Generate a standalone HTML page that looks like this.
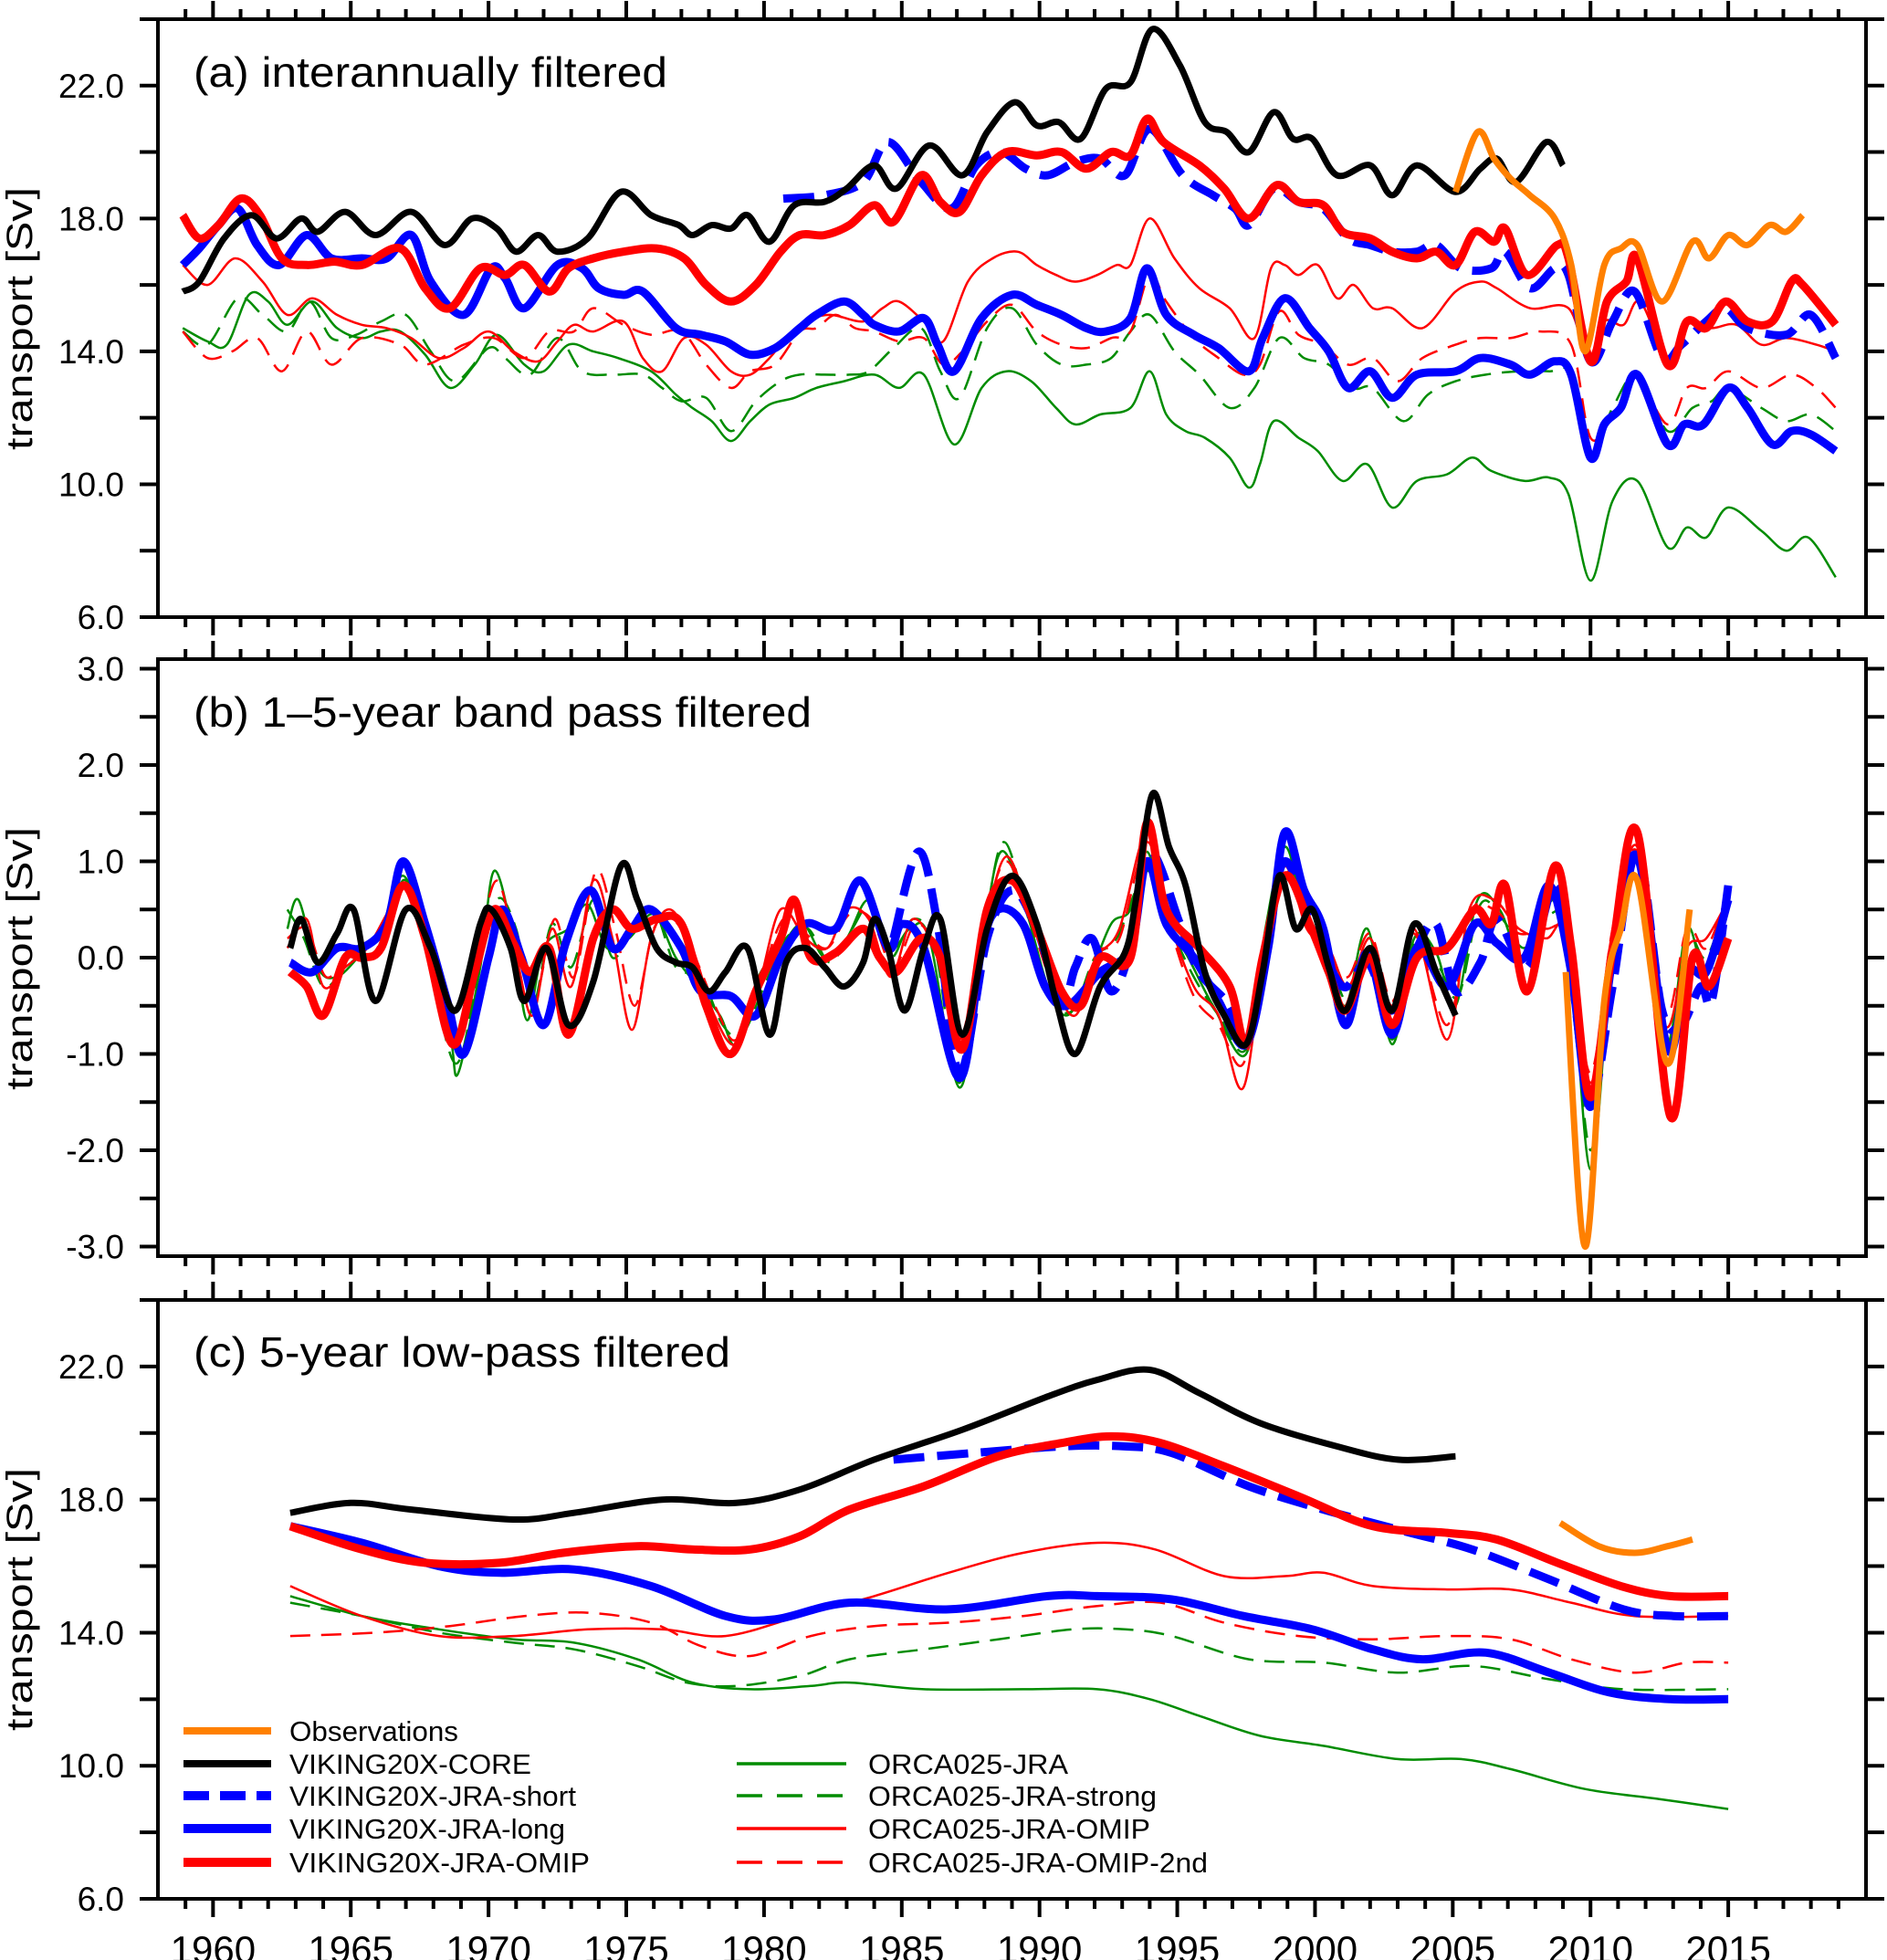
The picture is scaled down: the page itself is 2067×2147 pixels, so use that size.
<!DOCTYPE html>
<html><head><meta charset="utf-8"><title>Transport time series</title>
<style>
html,body{margin:0;padding:0;background:#fff;}
svg{display:block;font-family:"Liberation Sans",Arial,sans-serif;}
</style></head>
<body>
<svg id="chart" width="2067" height="2147" viewBox="0 0 2067 2147" xmlns="http://www.w3.org/2000/svg">
<g id="axes"></g>
<g id="series"></g>
<g id="legend"></g>
</svg>
<script>
// ---------- data: panel (a) interannually filtered ----------
const aObs=[[2005.1,18.8],[2005.9,20.6],[2006.5,19.8],[2007.1,19.2],[2007.8,18.7],[2008.7,18.0],[2009.3,16.6],[2009.8,14.0],[2010.5,16.6],[2011.1,17.1],[2011.7,17.2],[2012.6,15.5],[2013.7,17.3],[2014.3,16.8],[2015.0,17.5],[2015.7,17.2],[2016.5,17.8],[2017.1,17.6],[2017.7,18.1]];
const aCore=[[1958.9,15.8],[1959.5,16.1],[1960.4,17.4],[1961.4,18.1],[1962.3,17.4],[1963.2,18.0],[1963.8,17.6],[1964.8,18.2],[1965.9,17.5],[1967.2,18.2],[1968.4,17.2],[1969.4,18.0],[1970.3,17.7],[1971.0,17.0],[1971.8,17.5],[1972.5,17.0],[1973.6,17.4],[1974.8,18.8],[1975.9,18.1],[1976.9,17.8],[1977.4,17.5],[1978.1,17.8],[1978.8,17.7],[1979.4,18.1],[1980.2,17.3],[1981.1,18.4],[1982.2,18.5],[1983.0,18.9],[1984.0,19.6],[1984.8,18.9],[1986.0,20.2],[1987.2,19.3],[1988.1,20.6],[1989.1,21.5],[1989.9,20.8],[1990.7,20.9],[1991.5,20.4],[1992.4,21.9],[1993.3,22.1],[1994.1,23.7],[1995.1,22.6],[1996.0,20.9],[1996.8,20.6],[1997.6,20.0],[1998.5,21.2],[1999.2,20.4],[1999.9,20.4],[2000.8,19.3],[2002.0,19.6],[2002.8,18.7],[2003.7,19.6],[2005.1,18.8],[2006.0,19.5],[2006.6,19.8],[2007.3,19.1],[2008.4,20.3],[2009.0,19.6]];
const aShort=[[1980.7,18.6],[1982.2,18.7],[1983.6,19.1],[1984.5,20.3],[1985.7,19.1],[1986.8,18.3],[1987.7,19.6],[1988.6,20.0],[1989.5,19.5],[1990.3,19.3],[1991.3,19.7],[1992.2,19.8],[1993.1,19.3],[1994.0,20.7],[1995.2,19.3],[1996.3,18.7],[1997.1,18.3],[1997.6,17.8],[1998.5,18.9],[1999.4,18.5],[2000.3,18.3],[2001.2,17.4],[2002.0,17.2],[2002.8,17.0],[2003.7,17.0],[2004.4,17.2],[2005.3,16.5],[2006.4,16.5],[2006.9,17.0],[2007.8,15.9],[2008.7,16.5],[2009.2,16.3],[2010.0,13.7],[2010.8,14.9],[2011.6,15.8],[2012.6,13.8],[2013.3,14.2],[2014.2,14.9],[2014.9,15.3],[2015.7,14.7],[2017.1,14.5],[2018.0,15.1],[2018.9,13.8]];
const aLong=[[1958.9,16.6],[1959.5,17.1],[1960.2,17.8],[1960.9,18.3],[1961.6,17.2],[1962.4,16.6],[1963.4,17.5],[1964.3,16.8],[1965.4,16.8],[1966.3,16.8],[1967.2,17.5],[1967.9,16.1],[1969.1,15.1],[1970.1,16.5],[1970.6,16.2],[1971.3,15.3],[1972.5,16.6],[1973.4,16.5],[1974.0,15.9],[1974.9,15.7],[1975.6,15.8],[1976.8,14.7],[1977.7,14.5],[1978.6,14.3],[1979.5,13.9],[1980.4,14.1],[1981.3,14.7],[1981.9,15.1],[1982.9,15.5],[1983.6,15.1],[1984.0,14.8],[1984.9,14.6],[1985.8,15.0],[1986.3,14.2],[1986.9,13.4],[1987.9,15.0],[1989.0,15.7],[1989.9,15.4],[1990.8,15.1],[1991.7,14.7],[1992.4,14.6],[1993.3,15.0],[1993.9,16.5],[1994.6,15.1],[1995.6,14.5],[1996.5,14.1],[1997.6,13.4],[1998.1,14.4],[1998.9,15.6],[1999.8,14.7],[2000.5,14.0],[2001.2,12.9],[2002.0,13.4],[2002.8,12.6],[2003.7,13.3],[2005.1,13.4],[2006.0,13.8],[2007.1,13.6],[2007.8,13.3],[2008.7,13.7],[2009.3,13.3],[2010.0,10.8],[2010.5,11.8],[2011.1,12.3],[2011.7,13.3],[2012.8,11.2],[2013.4,11.8],[2014.1,11.8],[2015.0,12.9],[2015.7,12.3],[2016.6,11.2],[2017.3,11.6],[2018.0,11.5],[2018.9,11.0]];
const aOmip=[[1958.9,18.1],[1959.5,17.4],[1960.2,17.8],[1961.0,18.6],[1961.7,18.1],[1962.5,16.8],[1963.4,16.6],[1964.4,16.7],[1965.4,16.6],[1966.8,17.1],[1967.7,15.9],[1968.6,15.3],[1969.7,16.5],[1970.6,16.3],[1971.3,16.6],[1972.2,15.8],[1972.9,16.5],[1973.8,16.8],[1974.9,17.0],[1976.1,17.1],[1977.1,16.8],[1977.9,16.0],[1978.8,15.5],[1979.7,16.0],[1980.6,17.0],[1981.3,17.5],[1982.2,17.5],[1983.1,17.8],[1984.0,18.4],[1984.7,17.9],[1985.7,19.3],[1986.4,18.5],[1987.1,18.2],[1987.9,19.3],[1988.8,20.0],[1989.9,19.9],[1990.8,20.0],[1991.7,19.5],[1992.6,20.0],[1993.3,19.9],[1993.9,21.0],[1994.5,20.3],[1995.8,19.6],[1996.7,18.9],[1997.6,18.0],[1998.6,19.0],[1999.4,18.5],[2000.3,18.4],[2001.0,17.6],[2002.0,17.4],[2002.8,17.0],[2003.7,16.8],[2004.4,17.0],[2005.1,16.6],[2005.8,17.6],[2006.5,17.3],[2006.9,17.7],[2007.7,16.3],[2008.8,17.2],[2009.2,16.8],[2010.0,13.7],[2010.6,15.5],[2011.3,16.1],[2011.7,16.8],[2012.8,13.6],[2013.5,14.9],[2014.2,14.7],[2014.9,15.5],[2015.7,14.9],[2016.6,14.9],[2017.3,16.1],[2017.7,16.0],[2018.9,14.8]];
const aOrca=[[1958.9,14.7],[1959.8,14.3],[1960.5,14.2],[1961.3,15.7],[1962.0,15.5],[1962.7,14.8],[1963.6,15.5],[1964.5,14.7],[1965.4,14.4],[1966.1,14.6],[1966.8,14.6],[1967.7,13.9],[1968.6,12.9],[1969.5,13.6],[1970.3,14.5],[1971.3,13.6],[1972.0,13.4],[1972.9,14.2],[1973.8,14.0],[1974.7,13.8],[1975.9,13.4],[1976.8,12.7],[1977.4,12.3],[1978.1,11.9],[1978.8,11.3],[1979.5,11.9],[1980.2,12.4],[1981.1,12.6],[1981.9,12.9],[1982.9,13.1],[1984.0,13.3],[1984.9,12.9],[1985.8,13.3],[1986.9,11.2],[1987.9,12.9],[1988.8,13.4],[1989.7,13.1],[1990.6,12.3],[1991.3,11.8],[1992.2,12.1],[1993.3,12.3],[1994.0,13.4],[1994.6,12.1],[1995.3,11.6],[1996.0,11.4],[1996.9,10.8],[1997.6,9.9],[1998.0,10.6],[1998.5,11.9],[1999.4,11.4],[2000.1,11.0],[2001.0,10.1],[2001.9,10.6],[2002.8,9.3],[2003.7,10.1],[2004.8,10.3],[2005.7,10.8],[2006.4,10.4],[2007.6,10.1],[2008.5,10.2],[2009.2,9.7],[2010.0,7.1],[2010.8,9.5],[2011.7,10.1],[2012.8,8.1],[2013.5,8.7],[2014.2,8.4],[2015.0,9.3],[2016.2,8.6],[2017.1,8.0],[2017.9,8.4],[2018.9,7.2]];
const aStrong=[[1958.9,14.6],[1959.8,14.2],[1960.9,15.6],[1961.8,15.1],[1962.7,14.6],[1963.5,15.5],[1964.3,14.4],[1965.2,14.5],[1966.1,14.9],[1967.0,15.1],[1967.9,14.0],[1968.8,13.1],[1970.0,14.1],[1970.6,13.8],[1971.5,13.3],[1972.5,14.4],[1973.4,13.4],[1974.5,13.3],[1975.6,13.3],[1976.3,12.9],[1977.0,12.5],[1977.9,12.6],[1978.8,11.6],[1979.7,12.5],[1980.6,13.1],[1981.3,13.3],[1982.2,13.3],[1983.1,13.3],[1983.8,13.4],[1984.7,14.1],[1985.7,14.7],[1986.4,13.4],[1987.1,12.6],[1988.1,14.7],[1989.0,15.3],[1989.9,14.2],[1990.8,13.6],[1991.7,13.6],[1992.6,13.8],[1993.3,14.6],[1994.0,15.1],[1994.9,14.0],[1995.8,13.3],[1996.9,12.3],[1997.8,12.9],[1998.7,14.4],[1999.6,13.8],[2000.5,13.6],[2001.4,12.9],[2002.1,12.9],[2003.2,11.9],[2004.1,12.7],[2005.1,13.1],[2006.2,13.3],[2007.4,13.4],[2008.5,13.4],[2009.3,13.3],[2010.0,10.9],[2010.8,12.3],[2011.7,13.3],[2012.8,11.6],[2013.7,12.3],[2014.4,12.5],[2015.0,12.9],[2016.2,12.3],[2017.1,11.9],[2018.0,12.1],[2018.9,11.6]];
const aOrcaOmip=[[1958.9,16.6],[1959.8,16.0],[1960.8,16.8],[1961.8,16.1],[1962.7,15.1],[1963.6,15.6],[1964.5,15.1],[1965.4,14.8],[1966.3,14.7],[1967.2,14.4],[1968.2,13.8],[1969.1,14.1],[1970.0,14.6],[1970.9,14.0],[1971.8,13.7],[1972.5,14.3],[1973.1,14.8],[1973.8,14.6],[1974.9,14.9],[1975.6,13.8],[1976.3,13.4],[1977.1,14.4],[1977.9,14.2],[1978.8,13.4],[1979.5,13.3],[1980.2,13.8],[1980.8,14.4],[1981.5,14.9],[1982.4,15.1],[1983.6,14.9],[1984.3,15.3],[1984.9,15.5],[1985.8,14.9],[1986.5,14.3],[1987.4,16.1],[1988.3,16.8],[1989.2,17.0],[1989.9,16.6],[1990.6,16.3],[1991.3,16.1],[1992.1,16.3],[1992.8,16.6],[1993.3,16.6],[1994.0,18.0],[1994.9,16.8],[1995.8,15.9],[1996.9,15.3],[1997.8,14.4],[1998.4,16.5],[1998.9,16.6],[1999.4,16.3],[2000.1,16.6],[2000.8,15.6],[2001.4,16.0],[2002.1,15.3],[2002.8,15.3],[2003.9,14.7],[2005.1,15.8],[2006.0,16.1],[2006.6,15.9],[2007.8,15.3],[2009.2,15.3],[2009.9,13.8],[2010.5,14.9],[2011.2,14.8],[2011.8,15.5],[2012.8,13.8],[2013.5,14.8],[2014.4,14.7],[2015.3,14.8],[2016.2,14.2],[2017.1,14.4],[2018.2,14.2],[2018.9,14.0]];
const aOrcaOmip2=[[1958.9,14.6],[1959.8,13.8],[1960.7,14.0],[1961.6,14.4],[1962.5,13.4],[1963.4,14.6],[1964.3,13.6],[1965.4,14.4],[1966.8,14.2],[1967.7,13.6],[1969.1,14.2],[1970.2,14.4],[1971.3,13.8],[1972.2,14.6],[1973.1,14.6],[1973.8,15.3],[1974.9,14.8],[1975.9,14.5],[1977.0,14.6],[1977.9,13.6],[1978.8,12.9],[1979.5,13.4],[1980.4,13.6],[1981.3,14.6],[1981.9,14.7],[1982.6,15.1],[1983.3,14.7],[1984.0,14.6],[1984.9,14.3],[1985.8,14.4],[1986.5,13.6],[1987.2,14.0],[1988.1,14.9],[1989.0,15.4],[1989.9,14.6],[1990.8,14.2],[1991.7,14.1],[1992.6,14.4],[1993.3,14.6],[1994.0,16.3],[1994.6,15.5],[1995.6,14.4],[1996.5,13.8],[1997.4,13.3],[1998.0,13.6],[1998.7,15.2],[1999.4,14.5],[2000.3,14.2],[2001.2,13.6],[2002.1,13.8],[2003.0,13.1],[2003.9,13.8],[2005.1,14.2],[2006.0,14.4],[2007.1,14.4],[2008.2,14.6],[2009.3,14.2],[2010.0,11.4],[2010.8,12.1],[2011.7,13.1],[2012.8,11.8],[2013.5,12.9],[2014.2,12.9],[2015.0,13.4],[2016.2,12.9],[2017.3,13.3],[2018.2,12.9],[2018.9,12.3]];

// ---------- data: panel (b) 1-5-year band pass ----------
const bObs=[[2009.1,-0.15],[2009.8,-3.0],[2010.5,-0.45],[2011.1,0.3],[2011.7,0.8],[2012.8,-1.1],[2013.6,0.5]];
const bCore=[[1962.8,0.1],[1963.2,0.4],[1963.8,-0.05],[1964.5,0.25],[1965.1,0.5],[1965.9,-0.45],[1967.0,0.5],[1967.9,0.1],[1968.8,-0.55],[1969.7,0.35],[1970.1,0.5],[1970.8,0.1],[1971.3,-0.45],[1972.1,0.1],[1972.9,-0.7],[1973.8,-0.25],[1974.8,0.95],[1975.4,0.6],[1976.1,0.1],[1976.8,-0.05],[1977.4,-0.1],[1978.0,-0.35],[1978.6,-0.15],[1979.4,0.1],[1980.2,-0.8],[1980.8,-0.05],[1981.5,0.1],[1982.2,-0.1],[1982.9,-0.3],[1983.6,-0.05],[1984.0,0.4],[1984.5,0.1],[1985.1,-0.55],[1985.8,0.1],[1986.4,0.4],[1987.2,-0.8],[1988.1,0.3],[1989.0,0.85],[1989.9,0.35],[1990.6,-0.45],[1991.3,-1.0],[1992.2,-0.3],[1993.1,0.05],[1993.5,0.6],[1994.1,1.7],[1994.7,1.15],[1995.3,0.75],[1996.0,-0.15],[1996.7,-0.6],[1997.5,-0.9],[1998.1,-0.15],[1998.7,0.85],[1999.3,0.3],[1999.9,0.5],[2000.5,-0.1],[2001.1,-0.55],[2002.0,0.1],[2002.8,-0.55],[2003.6,0.35],[2004.4,-0.15],[2005.1,-0.6]];
const bShort=[[1984.7,0.2],[1985.6,1.1],[1986.3,0.35],[1987.1,-1.2],[1988.1,0.2],[1989.0,0.7],[1989.9,0.3],[1990.8,-0.45],[1991.3,-0.1],[1991.9,0.2],[1992.6,-0.35],[1993.3,0.1],[1994.0,1.1],[1995.1,0.35],[1995.8,-0.15],[1996.9,-0.5],[1997.5,-0.9],[1998.3,0.2],[1998.9,1.0],[1999.9,0.35],[2001.0,-0.3],[2001.9,-0.05],[2002.8,-0.55],[2003.7,0.1],[2004.4,0.35],[2005.1,-0.35],[2006.0,-0.05],[2006.6,0.4],[2007.7,-0.1],[2008.7,0.75],[2009.3,-0.15],[2010.0,-1.5],[2010.8,-0.3],[2011.7,1.1],[2012.6,-0.55],[2013.3,-0.7],[2014.0,-0.3],[2014.4,-0.45],[2015.0,0.75]];
const bLong=[[1962.8,-0.05],[1963.6,-0.15],[1964.5,0.1],[1965.4,0.1],[1966.3,0.35],[1966.9,1.0],[1967.7,0.35],[1968.5,-0.45],[1969.1,-1.0],[1970.0,0.0],[1970.5,0.5],[1971.2,0.0],[1972.0,-0.7],[1972.8,0.15],[1973.7,0.7],[1974.5,0.1],[1975.2,0.3],[1975.9,0.5],[1977.0,0.1],[1977.7,-0.35],[1978.8,-0.4],[1979.7,-0.6],[1980.6,0.0],[1981.5,0.35],[1982.6,0.3],[1983.5,0.8],[1984.5,0.1],[1985.0,0.35],[1985.8,0.1],[1987.1,-1.25],[1987.9,0.1],[1988.5,0.5],[1989.4,0.35],[1990.2,-0.3],[1991.0,-0.5],[1992.2,-0.15],[1993.3,0.1],[1993.9,1.0],[1994.6,0.35],[1995.6,0.0],[1996.5,-0.45],[1997.5,-0.9],[1998.3,0.1],[1998.9,1.3],[1999.6,0.7],[2000.3,0.3],[2001.1,-0.7],[2001.9,0.05],[2002.8,-0.8],[2003.7,0.1],[2004.8,-0.3],[2005.8,0.35],[2006.6,0.15],[2007.6,0.0],[2008.5,0.75],[2009.3,-0.15],[2010.0,-1.55],[2010.8,0.0],[2011.7,1.05],[2012.8,-0.95],[2013.5,-0.15],[2014.2,-0.15],[2015.0,0.6]];
const bOmip=[[1962.8,-0.15],[1963.4,-0.3],[1964.0,-0.6],[1964.8,0.0],[1965.4,0.0],[1966.1,0.1],[1966.9,0.75],[1967.7,0.2],[1968.7,-0.9],[1969.5,-0.15],[1970.2,0.5],[1970.9,0.15],[1971.5,-0.15],[1972.2,0.1],[1972.9,-0.8],[1973.8,0.2],[1974.5,0.5],[1975.2,0.3],[1976.1,0.4],[1977.0,0.35],[1977.9,-0.5],[1978.8,-1.0],[1979.7,-0.35],[1980.6,0.2],[1981.1,0.6],[1981.7,0.0],[1982.6,0.05],[1983.6,0.3],[1984.2,0.0],[1984.8,-0.15],[1985.7,0.2],[1986.4,0.0],[1987.2,-0.95],[1988.1,0.5],[1989.0,0.8],[1989.9,0.3],[1990.8,-0.35],[1991.5,-0.5],[1992.2,0.0],[1993.3,0.0],[1993.9,1.4],[1994.6,0.5],[1995.8,0.1],[1996.9,-0.3],[1997.5,-0.9],[1998.1,0.0],[1998.9,0.85],[1999.8,0.35],[2000.5,-0.15],[2001.1,-0.55],[2002.0,0.0],[2002.8,-0.7],[2003.7,0.0],[2004.8,0.1],[2005.8,0.5],[2006.4,0.35],[2006.9,0.75],[2007.7,-0.35],[2008.7,0.95],[2009.3,0.1],[2010.0,-1.45],[2010.8,0.1],[2011.7,1.3],[2012.9,-1.65],[2013.7,0.0],[2014.3,-0.3],[2015.0,0.2]];
const bOrca=[[1962.7,0.3],[1963.1,0.6],[1963.8,-0.1],[1964.5,-0.2],[1965.4,0.05],[1966.1,0.3],[1966.9,0.85],[1967.7,0.2],[1968.6,-0.8],[1968.9,-1.2],[1969.7,-0.1],[1970.2,0.9],[1970.9,0.2],[1971.4,-0.65],[1972.0,0.1],[1972.9,0.3],[1973.6,0.55],[1974.3,0.1],[1975.1,0.2],[1976.0,0.45],[1976.8,0.0],[1977.6,-0.3],[1978.4,-0.6],[1979.0,-0.9],[1979.8,-0.2],[1980.6,0.1],[1981.4,0.35],[1982.2,0.0],[1983.0,0.2],[1983.8,0.6],[1984.6,0.1],[1985.3,0.3],[1986.0,0.2],[1987.1,-1.35],[1987.9,0.1],[1988.6,1.1],[1989.5,0.5],[1990.3,-0.3],[1991.0,-0.6],[1991.8,-0.2],[1992.6,0.35],[1993.3,0.5],[1993.9,1.1],[1994.6,0.4],[1995.4,0.0],[1996.3,-0.5],[1997.5,-1.0],[1998.2,0.3],[1998.9,1.15],[1999.6,0.5],[2000.4,0.1],[2001.1,-0.5],[2001.9,0.3],[2002.8,-0.9],[2003.6,0.2],[2004.4,0.05],[2005.1,-0.5],[2005.9,0.6],[2006.7,0.5],[2007.5,0.0],[2008.4,0.55],[2009.2,0.3],[2010.0,-2.2],[2010.8,0.1],[2011.7,1.0],[2012.7,-0.95],[2013.5,0.3],[2014.2,-0.2],[2015.0,0.6]];
const bStrong=[[1962.7,0.5],[1963.3,0.2],[1964.0,-0.3],[1964.8,-0.1],[1965.6,0.1],[1966.4,0.4],[1967.0,0.8],[1967.8,0.0],[1968.8,-1.1],[1969.6,-0.2],[1970.3,0.6],[1971.0,0.3],[1971.6,-0.5],[1972.3,0.35],[1973.0,-0.1],[1973.8,0.6],[1974.5,0.0],[1975.2,0.3],[1976.0,0.5],[1976.8,-0.1],[1977.7,-0.2],[1978.5,-0.7],[1979.2,-0.8],[1980.0,-0.3],[1980.8,0.2],[1981.6,0.3],[1982.4,-0.05],[1983.2,0.3],[1983.9,0.55],[1984.6,0.0],[1985.4,0.4],[1986.2,0.1],[1987.1,-1.3],[1988.0,0.3],[1988.7,1.2],[1989.6,0.4],[1990.4,-0.4],[1991.2,-0.55],[1992.0,0.0],[1992.8,0.2],[1993.9,0.9],[1994.7,0.35],[1995.6,-0.2],[1996.5,-0.6],[1997.5,-0.95],[1998.3,0.2],[1998.9,1.05],[1999.7,0.4],[2000.5,0.0],[2001.2,-0.45],[2002.0,0.2],[2002.8,-0.85],[2003.6,0.15],[2004.5,-0.1],[2005.2,-0.4],[2006.0,0.55],[2006.8,0.4],[2007.6,0.1],[2008.5,0.45],[2009.2,0.2],[2010.0,-2.0],[2010.8,0.0],[2011.7,1.05],[2012.7,-0.9],[2013.5,0.2],[2014.2,0.0],[2015.0,0.65]];
const bOrcaOmip=[[1962.7,0.1],[1963.4,0.4],[1964.0,-0.3],[1964.8,-0.1],[1965.6,0.1],[1966.4,0.5],[1967.0,0.75],[1967.9,-0.1],[1968.8,-0.8],[1969.6,0.0],[1970.3,0.4],[1971.0,0.0],[1971.6,-0.6],[1972.3,0.3],[1973.0,-0.3],[1973.8,0.8],[1974.5,0.2],[1975.2,-0.75],[1975.9,0.2],[1976.6,0.5],[1977.4,0.1],[1978.2,-0.6],[1979.0,-0.9],[1979.8,-0.3],[1980.6,0.5],[1981.5,0.2],[1982.3,0.1],[1983.0,0.5],[1983.8,0.4],[1984.6,-0.2],[1985.4,0.4],[1986.3,0.0],[1987.1,-0.9],[1988.0,0.3],[1988.8,1.05],[1989.7,0.4],[1990.5,-0.25],[1991.3,-0.6],[1992.1,0.0],[1992.9,0.3],[1993.9,1.3],[1994.7,0.4],[1995.6,-0.3],[1996.5,-0.6],[1997.4,-1.35],[1998.2,0.2],[1998.9,0.95],[1999.7,0.3],[2000.5,0.1],[2001.2,-0.3],[2002.0,0.2],[2002.8,-0.5],[2003.6,0.3],[2004.8,-0.85],[2005.6,0.5],[2006.5,0.6],[2007.4,0.3],[2008.4,0.2],[2009.2,0.3],[2010.0,-1.3],[2010.8,0.2],[2011.7,1.15],[2012.7,-0.7],[2013.5,0.1],[2014.2,0.2],[2015.0,0.6]];
const bOrcaOmip2=[[1962.7,0.2],[1963.4,0.3],[1964.1,-0.2],[1964.9,0.0],[1965.7,0.0],[1966.5,0.4],[1967.0,0.7],[1967.9,0.0],[1968.8,-0.75],[1969.6,0.1],[1970.3,0.8],[1971.0,0.1],[1971.7,-0.4],[1972.4,0.4],[1973.1,-0.2],[1973.9,0.9],[1974.6,0.3],[1975.3,-0.5],[1976.0,0.3],[1976.7,0.4],[1977.5,0.0],[1978.3,-0.55],[1979.0,-0.85],[1979.9,-0.2],[1980.7,0.4],[1981.5,0.25],[1982.3,0.1],[1983.1,0.45],[1983.9,0.4],[1984.7,-0.1],[1985.5,0.35],[1986.3,0.05],[1987.1,-0.85],[1988.0,0.35],[1988.8,1.0],[1989.7,0.35],[1990.5,-0.3],[1991.3,-0.5],[1992.1,0.05],[1992.9,0.2],[1993.9,1.2],[1994.7,0.35],[1995.6,-0.4],[1996.5,-0.7],[1997.4,-1.1],[1998.2,0.1],[1998.9,0.9],[1999.7,0.35],[2000.5,0.0],[2001.2,-0.2],[2002.0,0.25],[2002.8,-0.45],[2003.6,0.25],[2004.8,-0.7],[2005.6,0.45],[2006.5,0.5],[2007.4,0.25],[2008.4,0.3],[2009.2,0.2],[2010.0,-1.2],[2010.8,0.3],[2011.7,1.1],[2012.7,-0.6],[2013.5,0.3],[2014.2,0.1],[2015.0,0.7]];

// ---------- data: panel (c) 5-year low-pass ----------
const cObs=[[2008.9,17.3],[2010.3,16.6],[2011.6,16.4],[2012.8,16.6],[2013.7,16.8]];
const cCore=[[1962.8,17.6],[1965.0,17.9],[1967.2,17.7],[1970.9,17.4],[1973.1,17.6],[1976.3,18.0],[1979.0,17.9],[1981.3,18.3],[1984.0,19.2],[1987.2,20.1],[1990.3,21.1],[1992.1,21.6],[1994.0,21.9],[1995.8,21.2],[1998.0,20.3],[2000.8,19.6],[2003.0,19.2],[2005.1,19.3]];
const cShort=[[1984.7,19.2],[1987.6,19.4],[1990.8,19.6],[1993.1,19.6],[1994.8,19.4],[1997.6,18.4],[2000.3,17.7],[2003.0,17.1],[2005.7,16.5],[2008.5,15.6],[2011.2,14.7],[2013.0,14.5],[2015.0,14.5]];
const cLong=[[1962.8,17.2],[1965.4,16.7],[1968.2,16.0],[1970.4,15.8],[1973.1,15.9],[1975.9,15.4],[1978.6,14.5],[1980.4,14.4],[1983.1,14.9],[1986.7,14.7],[1990.3,15.1],[1992.1,15.1],[1994.8,15.0],[1997.4,14.5],[1999.9,14.1],[2002.1,13.5],[2003.9,13.2],[2006.2,13.4],[2008.5,12.8],[2010.7,12.2],[2012.9,12.0],[2015.0,12.0]];
const cOmip=[[1962.8,17.2],[1965.4,16.5],[1967.7,16.1],[1970.4,16.1],[1972.7,16.4],[1975.4,16.6],[1977.4,16.5],[1979.5,16.5],[1981.3,16.9],[1983.1,17.7],[1985.8,18.4],[1988.5,19.3],[1990.8,19.7],[1992.6,19.9],[1994.4,19.7],[1996.7,19.0],[1999.4,18.1],[2002.1,17.2],[2004.8,17.0],[2006.6,16.8],[2008.8,16.1],[2011.1,15.4],[2012.9,15.1],[2015.0,15.1]];
const cOrca=[[1962.8,15.1],[1965.4,14.5],[1968.2,14.1],[1970.9,13.8],[1973.1,13.7],[1975.4,13.2],[1977.4,12.5],[1979.5,12.3],[1981.7,12.4],[1983.1,12.5],[1985.8,12.3],[1989.4,12.3],[1992.1,12.3],[1994.0,12.0],[1995.8,11.5],[1998.0,10.9],[2000.3,10.6],[2003.0,10.2],[2005.3,10.2],[2007.1,9.9],[2009.8,9.3],[2012.5,9.0],[2015.0,8.7]];
const cStrong=[[1962.8,14.9],[1965.4,14.5],[1968.2,14.0],[1970.9,13.7],[1973.1,13.5],[1975.4,13.0],[1977.2,12.5],[1979.0,12.4],[1981.3,12.7],[1983.1,13.2],[1985.8,13.5],[1988.5,13.8],[1991.2,14.1],[1993.1,14.1],[1994.8,13.9],[1997.6,13.2],[2000.3,13.1],[2003.0,12.8],[2005.7,13.0],[2008.5,12.6],[2011.2,12.3],[2015.0,12.3]];
const cOrcaOmip=[[1962.8,15.4],[1965.4,14.5],[1968.2,13.9],[1970.9,13.9],[1973.6,14.1],[1976.3,14.1],[1978.6,13.9],[1981.3,14.5],[1984.0,15.1],[1986.7,15.8],[1989.4,16.4],[1992.1,16.7],[1994.2,16.5],[1996.7,15.7],[1998.9,15.7],[2000.3,15.8],[2002.1,15.4],[2004.8,15.3],[2007.1,15.3],[2009.3,14.9],[2011.6,14.5],[2015.0,14.5]];
const cOrcaOmip2=[[1962.8,13.9],[1965.9,14.0],[1968.6,14.2],[1971.3,14.5],[1973.6,14.6],[1975.9,14.3],[1977.7,13.6],[1979.5,13.3],[1981.7,13.9],[1984.0,14.2],[1986.7,14.3],[1989.4,14.5],[1992.1,14.8],[1994.4,14.9],[1996.7,14.3],[1999.4,13.9],[2002.1,13.8],[2004.8,13.9],[2007.1,13.8],[2009.3,13.2],[2011.6,12.8],[2013.5,13.1],[2015.0,13.1]];

// ---------- tick labels ----------
const yTicksA=["6.0","10.0","14.0","18.0","22.0"];
const yTicksB=["-3.0","-2.0","-1.0","0.0","1.0","2.0","3.0"];
const yTicksC=["6.0","10.0","14.0","18.0","22.0"];
const xTickLabels=["1960","1965","1970","1975","1980","1985","1990","1995","2000","2005","2010","2015"];

// ---------- layout ----------
const NS="http://www.w3.org/2000/svg";
const X0=173, X1=2044, Y0YR=1958, Y1YR=2020;
function xs(yr){return X0+(yr-Y0YR)/(Y1YR-Y0YR)*(X1-X0);}
const panels=[
 {id:"a",top:21,bottom:676,min:6,max:24,minor:2,labels:yTicksA,title:"(a) interannually filtered",tw:519,tb:95,yl:349},
 {id:"b",top:722,bottom:1376,min:-3.1,max:3.1,minor:0.5,labels:yTicksB,title:"(b) 1\u20135-year band pass filtered",tw:677,tb:796,yl:1050},
 {id:"c",top:1424,bottom:2080,min:6,max:24,minor:2,labels:yTicksC,title:"(c) 5-year low-pass filtered",tw:588,tb:1497,yl:1752}
];
function ysF(p){return v=>p.bottom-(v-p.min)/(p.max-p.min)*(p.bottom-p.top);}
function mk(tag,attrs,parent){const e=document.createElementNS(NS,tag);for(const k in attrs)e.setAttribute(k,attrs[k]);if(parent)parent.appendChild(e);return e;}

const axes=document.getElementById('axes');
panels.forEach(p=>{
 const ys=ysF(p);
 const g=mk('g',{},axes);
 
 
 const fr=mk('rect',{x:X0,y:p.top,width:X1-X0,height:p.bottom-p.top,fill:'none',stroke:'#000','stroke-width':4},g);
 
 
 // x ticks
 let d='';
 for(let yr=1959;yr<=2019;yr++){
  const x=xs(yr), L=(yr%5===0)?20:11;
  d+=`M${x},${p.bottom}v${L}M${x},${p.top}v${-L}`;
 }
 // y ticks
 for(let v=Math.ceil(p.min/p.minor)*p.minor; v<=p.max+1e-9; v+=p.minor){
  const y=ys(v);
  d+=`M${X0},${y}h-20M${X1},${y}h20`;
 }
 const t=mk('path',{d:d,stroke:'#000','stroke-width':4,fill:'none'},g);
 
 
 p.labels.forEach(s=>{
  const tx=mk('text',{x:136,y:ys(parseFloat(s))+13,'font-size':37,'text-anchor':'end',fill:'#000'},g);
  tx.textContent=s;
  
  
 });
 const ti=mk('text',{x:212,y:p.tb,'font-size':46,fill:'#000',textLength:p.tw,lengthAdjust:'spacingAndGlyphs'},g);
 ti.textContent=p.title;
 
 
 const yl=mk('text',{x:0,y:0,'font-size':40,'text-anchor':'middle',fill:'#000',textLength:288,lengthAdjust:'spacingAndGlyphs',transform:`translate(35,${p.yl}) rotate(-90)`},g);
 yl.textContent='transport [Sv]';
 
 
});
xTickLabels.forEach(s=>{
 const tx=mk('text',{x:xs(parseFloat(s)),y:2150,'font-size':42,'text-anchor':'middle',fill:'#000'},axes);
 tx.textContent=s;
 
 
});

// ---------- series ----------
function pathD(pts,ys){
 const P=pts.map(q=>[xs(q[0]),ys(q[1])]);
 let d=`M${P[0][0].toFixed(1)},${P[0][1].toFixed(1)}`;
 for(let i=0;i<P.length-1;i++){
  const p0=P[Math.max(i-1,0)],p1=P[i],p2=P[i+1],p3=P[Math.min(i+2,P.length-1)];
  const c1=[p1[0]+(p2[0]-p0[0])/6,p1[1]+(p2[1]-p0[1])/6];
  const c2=[p2[0]-(p3[0]-p1[0])/6,p2[1]-(p3[1]-p1[1])/6];
  d+=`C${c1[0].toFixed(1)},${c1[1].toFixed(1)} ${c2[0].toFixed(1)},${c2[1].toFixed(1)} ${p2[0].toFixed(1)},${p2[1].toFixed(1)}`;
 }
 return d;
}
const styles={
 orca:{stroke:'#008c00',w:2.5,dash:null},
 strong:{stroke:'#008c00',w:2.5,dash:'22 12'},
 orcaOmip:{stroke:'#ff0000',w:2.5,dash:null},
 orcaOmip2:{stroke:'#ff0000',w:2.5,dash:'22 12'},
 long:{stroke:'#0000ff',w:9,dash:null},
 short:{stroke:'#0000ff',w:9,dash:'34 14'},
 omip:{stroke:'#ff0000',w:9,dash:null},
 core:{stroke:'#000000',w:7,dash:null},
 obs:{stroke:'#ff8000',w:7,dash:null}
};
const panelSeries=[
 {orca:aOrca,strong:aStrong,orcaOmip:aOrcaOmip,orcaOmip2:aOrcaOmip2,long:aLong,short:aShort,omip:aOmip,core:aCore,obs:aObs},
 {orca:bOrca,strong:bStrong,orcaOmip:bOrcaOmip,orcaOmip2:bOrcaOmip2,long:bLong,short:bShort,omip:bOmip,core:bCore,obs:bObs},
 {orca:cOrca,strong:cStrong,orcaOmip:cOrcaOmip,orcaOmip2:cOrcaOmip2,long:cLong,short:cShort,omip:cOmip,core:cCore,obs:cObs}
];
const order=['orca','strong','orcaOmip2','orcaOmip','long','short','omip','core','obs'];
const sg=document.getElementById('series');
panels.forEach((p,i)=>{
 const ys=ysF(p);
 order.forEach(k=>{
  const st=styles[k];
  const el=mk('path',{d:pathD(panelSeries[i][k],ys),fill:'none',stroke:st.stroke,'stroke-width':st.w,'stroke-linejoin':'round','stroke-linecap':'butt'},sg);
  if(st.dash)el.setAttribute('stroke-dasharray',st.dash);
  
  
 });
});

// ---------- legend ----------
const legendEntries=[
 {k:'obs',label:'Observations',x:201,x2:297,tx:317,y:1896,tw:185},
 {k:'core',label:'VIKING20X-CORE',x:201,x2:297,tx:317,y:1932,tw:265},
 {k:'short',label:'VIKING20X-JRA-short',x:201,x2:297,tx:317,y:1967,tw:314},
 {k:'long',label:'VIKING20X-JRA-long',x:201,x2:297,tx:317,y:2003,tw:302},
 {k:'omip',label:'VIKING20X-JRA-OMIP',x:201,x2:297,tx:317,y:2040,tw:329},
 {k:'orca',label:'ORCA025-JRA',x:807,x2:927,tx:951,y:1932,tw:219},
 {k:'strong',label:'ORCA025-JRA-strong',x:807,x2:927,tx:951,y:1967,tw:316},
 {k:'orcaOmip',label:'ORCA025-JRA-OMIP',x:807,x2:927,tx:951,y:2003,tw:309},
 {k:'orcaOmip2',label:'ORCA025-JRA-OMIP-2nd',x:807,x2:927,tx:951,y:2040,tw:372}
];
const lg=document.getElementById('legend');
legendEntries.forEach(e=>{
 const st=styles[e.k];
 const g=mk('g',{},lg);
 
 
 const ln=mk('line',{x1:e.x,x2:e.x2,y1:e.y,y2:e.y,stroke:st.stroke,'stroke-width':st.w+1},g);
 if(st.dash)ln.setAttribute('stroke-dasharray',e.k==='short'?'28 12':'28 16');
 
 
 const t=mk('text',{x:e.tx,y:e.y+11,'font-size':31,fill:'#000',textLength:e.tw,lengthAdjust:'spacingAndGlyphs'},g);
 t.textContent=e.label;
 
 
});
</script>
</body></html>
